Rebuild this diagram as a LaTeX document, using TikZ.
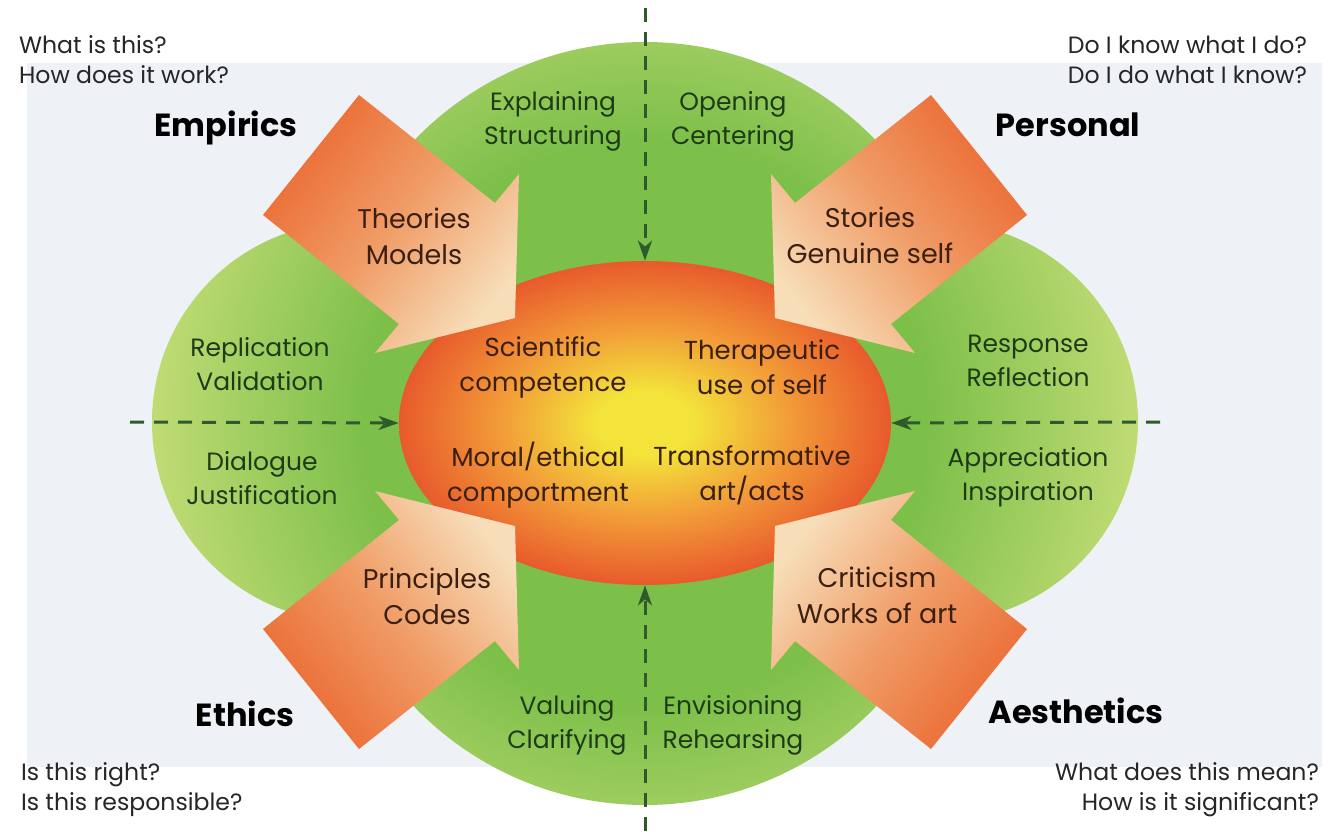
\documentclass[tikz,border=0pt]{standalone}
\usepackage{fontspec}
\setmainfont{Poppins}
\usetikzlibrary{arrows.meta,shapes.geometric}

\definecolor{leafgreen}{HTML}{7CBF49}
\definecolor{leaflight}{HTML}{C2DC76}
\definecolor{coreyellow}{HTML}{F3E33A}
\definecolor{coreorange}{HTML}{F29A38}
\definecolor{corered}{HTML}{E85A2C}
\definecolor{arroworange}{HTML}{EB6A33}
\definecolor{arrowmid}{HTML}{F09C66}
\definecolor{arrowcream}{HTML}{F7DDB8}
\definecolor{dashgreen}{HTML}{2E5A2C}
\definecolor{labelgreen}{HTML}{1E3B17}
\definecolor{labelbrown}{HTML}{3B1F12}
\definecolor{pagetint}{HTML}{EEF2F6}

\pgfdeclareradialshading{leafshade}{\pgfpoint{0bp}{0bp}}{color(0bp)=(leafgreen); color(14bp)=(leafgreen); color(25bp)=(leaflight); color(50bp)=(leaflight)}
\pgfdeclareradialshading{coreshade}{\pgfpoint{0bp}{0bp}}{color(0bp)=(coreyellow); color(5bp)=(coreyellow); color(15bp)=(coreorange); color(25bp)=(corered); color(50bp)=(corered)}

\tikzset{
	question/.style={font=\fontsize{11.8}{15}\selectfont, text=black!85},
	realm/.style={font=\fontsize{16}{18}\selectfont\bfseries},
	leaflabel/.style={font=\fontsize{12.5}{17}\selectfont, text=labelgreen, align=center},
	arrowlabel/.style={font=\fontsize{13.5}{18}\selectfont, text=labelbrown, align=center},
	corelabel/.style={font=\fontsize{13}{17.5}\selectfont, text=labelbrown, align=center},
	coreblob/.style={ellipse, minimum width=246pt, minimum height=162pt, inner sep=0pt, shade, shading=coreshade},
	axisline/.style={draw=dashgreen, line width=1.5pt, dash pattern=on 7pt off 5pt, -{Stealth[length=10pt,width=7pt,inset=3pt]}},
	bigarrow/.style={top color=arrowcream, bottom color=arroworange, middle color=arrowmid}
}

\begin{document}
\begin{tikzpicture}[x=0.5pt, y=-0.5pt]
		%%%%% START %%%%%
		
		\useasboundingbox (0,0) rectangle (1329,831);
		\fill[white] (0,0) rectangle (1329,831);
		\fill[pagetint] (27,63) rectangle (1322,767);
		
		% green lobes
		\begin{scope}
			\clip (645,362) circle (320) (645,485) circle (320) (352,422) circle (200) (938,422) circle (200);
			\shade[shading=leafshade] (145,-78) rectangle (1145,922);
		\end{scope}
		
		\node[coreblob] (core) at (645,423) {};
		
		% block arrows
		\shade[bigarrow, shading angle=-128.6] (359,95) -- (495,203) -- (519,174) -- (515,318) -- (375,353) -- (399,324) -- (263,215) -- cycle;
		\shade[bigarrow, shading angle=128.6] (931,95) -- (795,203) -- (771,174) -- (775,318) -- (915,353) -- (891,324) -- (1027,215) -- cycle;
		\shade[bigarrow, shading angle=-51.4] (359,749) -- (495,641) -- (519,670) -- (515,526) -- (375,491) -- (399,520) -- (263,629) -- cycle;
		\shade[bigarrow, shading angle=51.4] (931,749) -- (795,641) -- (771,670) -- (775,526) -- (915,491) -- (891,520) -- (1027,629) -- cycle;
		
		% dashed axes
		\coordinate (topend) at (645,8);
		\coordinate (bottomend) at (645,831);
		\coordinate (leftend) at (130,422);
		\coordinate (rightend) at (1160,422);
		\draw[axisline] (topend) -- (core.north);
		\draw[axisline] (bottomend) -- (core.south);
		\draw[axisline] (leftend) -- (core.west);
		\draw[axisline] (rightend) -- (core.east);
		
		% corner questions and realms
		\node[question, anchor=west, align=left] (qemp) at (12,60) {What is this?\\How does it work?};
		\node[question, anchor=east, align=right] (qper) at (1314,60) {Do I know what I do?\\Do I do what I know?};
		\node[question, anchor=west, align=left] (qeth) at (14,790) {Is this right?\\Is this responsible?};
		\node[question, anchor=east, align=right] (qaes) at (1326,790) {What does this mean?\\How is it significant?};
		\node[realm] (empirics) at (226,128) {Empirics};
		\node[realm] (personal) at (1068,125) {Personal};
		\node[realm] (ethics) at (245,714) {Ethics};
		\node[realm] (aesthetics) at (1076,711) {Aesthetics};
		
		% green labels
		\node[leaflabel] (explain) at (553,121) {Explaining\\Structuring};
		\node[leaflabel] (opening) at (733,121) {Opening\\Centering};
		\node[leaflabel] (replic) at (260,364) {Replication\\Validation};
		\node[leaflabel] (respon) at (1028,361) {Response\\Reflection};
		\node[leaflabel] (dialog) at (262,478) {Dialogue\\Justification};
		\node[leaflabel] (apprec) at (1028,477) {Appreciation\\Inspiration};
		\node[leaflabel] (valuing) at (567,725) {Valuing\\Clarifying};
		\node[leaflabel] (envis) at (733,725) {Envisioning\\Rehearsing};
		
		% arrow labels
		\node[arrowlabel] (theories) at (414,236) {Theories\\Models};
		\node[arrowlabel] (stories) at (870,235) {Stories\\Genuine self};
		\node[arrowlabel] (principles) at (427,596) {Principles\\Codes};
		\node[arrowlabel] (criticism) at (877,595) {Criticism\\Works of art};
		
		% core labels
		\node[corelabel] (scientific) at (543,367) {Scientific\\competence};
		\node[corelabel] (therapeutic) at (762,367) {Therapeutic\\use of self};
		\node[corelabel] (moral) at (538,475) {Moral/ethical\\comportment};
		\node[corelabel] (transform) at (752,475) {Transformative\\art/acts};
		
		%%%%% END %%%%%
\end{tikzpicture}
\end{document}
